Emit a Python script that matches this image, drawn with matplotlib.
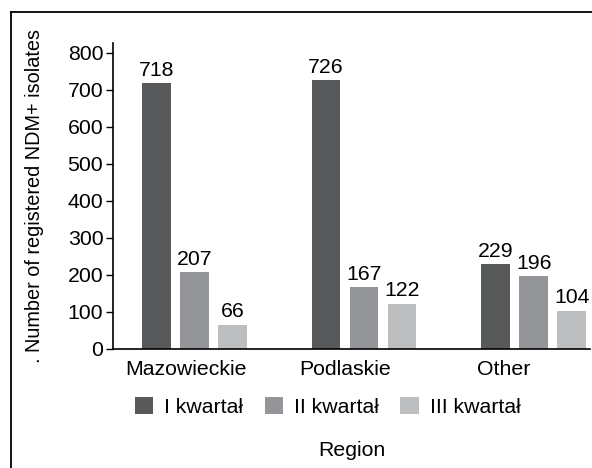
import matplotlib
matplotlib.use("Agg")
import matplotlib.pyplot as plt
import numpy as np
from matplotlib.lines import Line2D

categories = ["Mazowieckie", "Podlaskie", "Other"]
series_names = ["I kwartał", "II kwartał", "III kwartał"]
q1 = [718, 726, 229]
q2 = [207, 167, 196]
q3 = [66, 122, 104]
yticks = [0, 100, 200, 300, 400, 500, 600, 700, 800]

colors = ["#58595b", "#939598", "#bcbec0"]

plt.rcParams['font.family'] = ['Liberation Sans', 'DejaVu Sans']
fs = 15.3

fig = plt.figure(figsize=(5.92, 4.68), dpi=100)
ax = fig.add_axes([113/592, 1-349/468, (590-113)/592, (349-43)/468])

x = np.arange(len(categories))
width = 0.17
step = 0.224
handles = []
for i, (vals, name) in enumerate(zip([q1, q2, q3], series_names)):
    bars = ax.bar(x + (i-1)*step, vals, width, color=colors[i], label=name)
    handles.append(bars)
    for b, v in zip(bars, vals):
        ax.annotate(str(v), (b.get_x()+b.get_width()/2, v), xytext=(0, 2.5),
                    textcoords="offset points", ha="center", va="bottom", fontsize=fs)

ax.set_xlim(-0.479, 2.332)
ax.set_ylim(0, 827)
ax.set_yticks(yticks)
# category labels in the original sit slightly left of their bar groups
label_shift = [-0.05, -0.109, -0.174]
ax.set_xticks(x + np.array(label_shift))
ax.set_xticklabels(categories)
ax.tick_params(axis='y', labelsize=fs, length=5, width=1, pad=2)
ax.tick_params(axis='x', labelsize=fs, length=0, pad=8)
for s in ['top', 'right']:
    ax.spines[s].set_visible(False)
for s in ['left', 'bottom']:
    ax.spines[s].set_linewidth(1.2)

fig.text(35/592, 1-196/468, ". Number of registered NDM+ isolates", rotation=90,
         ha="center", va="center", fontsize=14.3)
fig.text(351.5/592, 1-450/468, "Region", ha="center", va="center", fontsize=fs)

fig.legend(handles=handles, labels=series_names, loc="center left",
           bbox_to_anchor=(135/592, 1-407/468), ncol=3, frameon=False,
           fontsize=fs, handlelength=0.87, handleheight=0.87, handletextpad=0.5,
           columnspacing=1.02, borderpad=0, borderaxespad=0)

fig.add_artist(Line2D([11/592, 1], [1-12/468, 1-12/468], color="black", lw=1.3,
                      transform=fig.transFigure))
fig.add_artist(Line2D([11/592, 11/592], [0, 1-12/468], color="black", lw=1.3,
                      transform=fig.transFigure))

fig.savefig("out.png", dpi=100)
